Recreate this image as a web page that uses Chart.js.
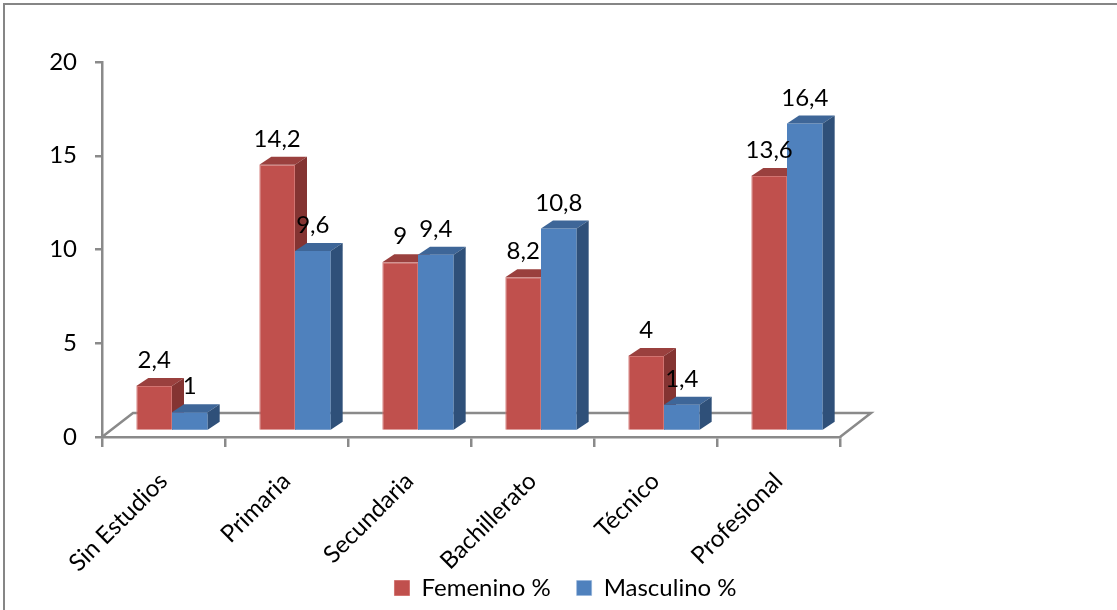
<!DOCTYPE html>
<html>
<head>
<meta charset="utf-8">
<script src="https://cdn.jsdelivr.net/npm/chart.js@4.4.1/dist/chart.umd.min.js"></script>
<style>
  html, body { margin: 0; padding: 0; background: #ffffff; }
  #wrap { width: 1117px; height: 610px; position: relative; }
</style>
</head>
<body>
<div id="wrap"><canvas id="chart" width="1117" height="610"></canvas></div>
<script>
// Nivel educativo por sexo (%)
const categories = ['Sin Estudios', 'Primaria', 'Secundaria', 'Bachillerato', 'Técnico', 'Profesional'];
const femenino   = [2.4, 14.2, 9, 8.2, 4, 13.6];
const masculino  = [1, 9.6, 9.4, 10.8, 1.4, 16.4];
const seriesNames = ['Femenino %', 'Masculino %'];
const yTicks = [0, 5, 10, 15, 20];

const FONT = { family: 'Lato, "Open Sans", sans-serif', size: 24 };
const AXIS_GRAY = '#8a8a8a';

// Face colours for the pseudo-3D columns
const faces = [
  { front: '#c0504d', top: '#9a403e', side: '#843432', edge: '#d27471' },
  { front: '#4f81bd', top: '#3e6698', side: '#2f5079', edge: '#8fb0da' }
];

// Column depth, floor depth and the shift of the columns into the floor
const BAR_DEPTH = { dx: 12, dy: -8 };
const FLOOR_DEPTH = { dx: 31, dy: -24 };
const BAR_SHIFT = { dx: 8.5, dy: -6 };

const fmt = v => String(v).replace('.', ',');

const columns3d = {
  id: 'columns3d',
  beforeDraw(chart) {
    const { ctx, width, height } = chart;
    // let the rotated category labels run below the axis box
    if (chart.scales.x) chart.scales.x._computeLabelArea = () => undefined;
    ctx.save();
    ctx.fillStyle = '#ffffff';
    ctx.fillRect(0, 0, width, height);
    ctx.strokeStyle = '#868686';
    ctx.lineWidth = 2;
    ctx.strokeRect(4, 4, width + 20, height + 20);
    ctx.restore();
  },
  beforeDatasetsDraw(chart) {
    // back edge and sides of the floor
    const { ctx } = chart;
    const x = chart.scales.x, y = chart.scales.y;
    const l = x.left, r = x.right, b = y.getPixelForValue(0);
    ctx.save();
    ctx.strokeStyle = AXIS_GRAY;
    ctx.lineWidth = 2.5;
    ctx.beginPath();
    ctx.moveTo(l, b);
    ctx.lineTo(l + FLOOR_DEPTH.dx, b + FLOOR_DEPTH.dy);
    ctx.lineTo(r + FLOOR_DEPTH.dx, b + FLOOR_DEPTH.dy);
    ctx.lineTo(r, b);
    ctx.stroke();
    ctx.restore();
  },
  // columns are painted below in series order so later series sit in front
  beforeDatasetDraw() { return false; },
  afterDatasetsDraw(chart) {
    const { ctx } = chart;
    const { dx, dy } = BAR_DEPTH;
    ctx.save();
    ctx.translate(BAR_SHIFT.dx, BAR_SHIFT.dy);
    chart.data.datasets.forEach((ds, i) => {
      const meta = chart.getDatasetMeta(i);
      const f = faces[i];
      meta.controller.draw();
      meta.data.forEach(bar => {
        const { x, y, base, width } = bar.getProps(['x', 'y', 'base', 'width'], true);
        const l = x - width / 2, r = x + width / 2;
        ctx.fillStyle = f.top;
        ctx.beginPath();
        ctx.moveTo(l, y);
        ctx.lineTo(l + dx, y + dy);
        ctx.lineTo(r + dx, y + dy);
        ctx.lineTo(r, y);
        ctx.closePath();
        ctx.fill();
        ctx.fillStyle = f.side;
        ctx.beginPath();
        ctx.moveTo(r, y);
        ctx.lineTo(r + dx, y + dy);
        ctx.lineTo(r + dx, base + dy);
        ctx.lineTo(r, base);
        ctx.closePath();
        ctx.fill();
      });
    });
    // value labels above each column
    ctx.font = `${FONT.size}px ${FONT.family}`;
    ctx.fillStyle = '#000000';
    ctx.textAlign = 'center';
    ctx.textBaseline = 'alphabetic';
    chart.data.datasets.forEach((ds, i) => {
      chart.getDatasetMeta(i).data.forEach((bar, j) => {
        const { x, y } = bar.getProps(['x', 'y'], true);
        ctx.fillText(fmt(ds.data[j]), x, y - 18);
      });
    });
    ctx.restore();
  }
};

new Chart(document.getElementById('chart'), {
  type: 'bar',
  data: {
    labels: categories,
    datasets: [
      { label: seriesNames[0], data: femenino, backgroundColor: faces[0].front,
        borderColor: faces[0].edge, borderWidth: 1 },
      { label: seriesNames[1], data: masculino, backgroundColor: faces[1].front,
        borderColor: faces[1].edge, borderWidth: { bottom: 2, left: 0, right: 0, top: 0 } }
    ]
  },
  options: {
    responsive: false,
    animation: false,
    devicePixelRatio: 1,
    datasets: { bar: { barPercentage: 1, categoryPercentage: 0.58 } },
    layout: { padding: { top: 62, left: 14, right: 0, bottom: 0 } },
    scales: {
      x: {
        offset: true,
        grid: { display: true, drawOnChartArea: false, drawTicks: true, tickLength: 10,
                color: AXIS_GRAY, lineWidth: 2.5, offset: true },
        border: { display: true, color: AXIS_GRAY, width: 2.5 },
        ticks: { font: FONT, color: '#000000', minRotation: 45, maxRotation: 45, padding: 20 },
        afterFit(scale) {
          const lg = scale.chart.legend;
          scale.height = 610 - 437 - (lg ? lg.height : 60);
        }
      },
      y: {
        min: 0, max: 20,
        afterBuildTicks(scale) { scale.ticks = yTicks.map(v => ({ value: v })); },
        grid: { display: true, drawOnChartArea: false, drawTicks: true, tickLength: 7,
                color: AXIS_GRAY, lineWidth: 2.5 },
        border: { display: true, color: AXIS_GRAY, width: 2.5 },
        ticks: { font: FONT, color: '#000000', padding: 18 },
        afterFit(scale) { scale.width = 88; }
      },
      yRight: {
        type: 'linear', position: 'right', display: true,
        grid: { display: false }, border: { display: false }, ticks: { display: false },
        afterFit(scale) { scale.width = 277; }
      }
    },
    plugins: {
      legend: {
        position: 'bottom',
        labels: {
          font: FONT, color: '#000000', boxWidth: 15, boxHeight: 15, padding: 26
        }
      },
      tooltip: { enabled: false }
    }
  },
  plugins: [columns3d]
});
</script>
</body>
</html>
